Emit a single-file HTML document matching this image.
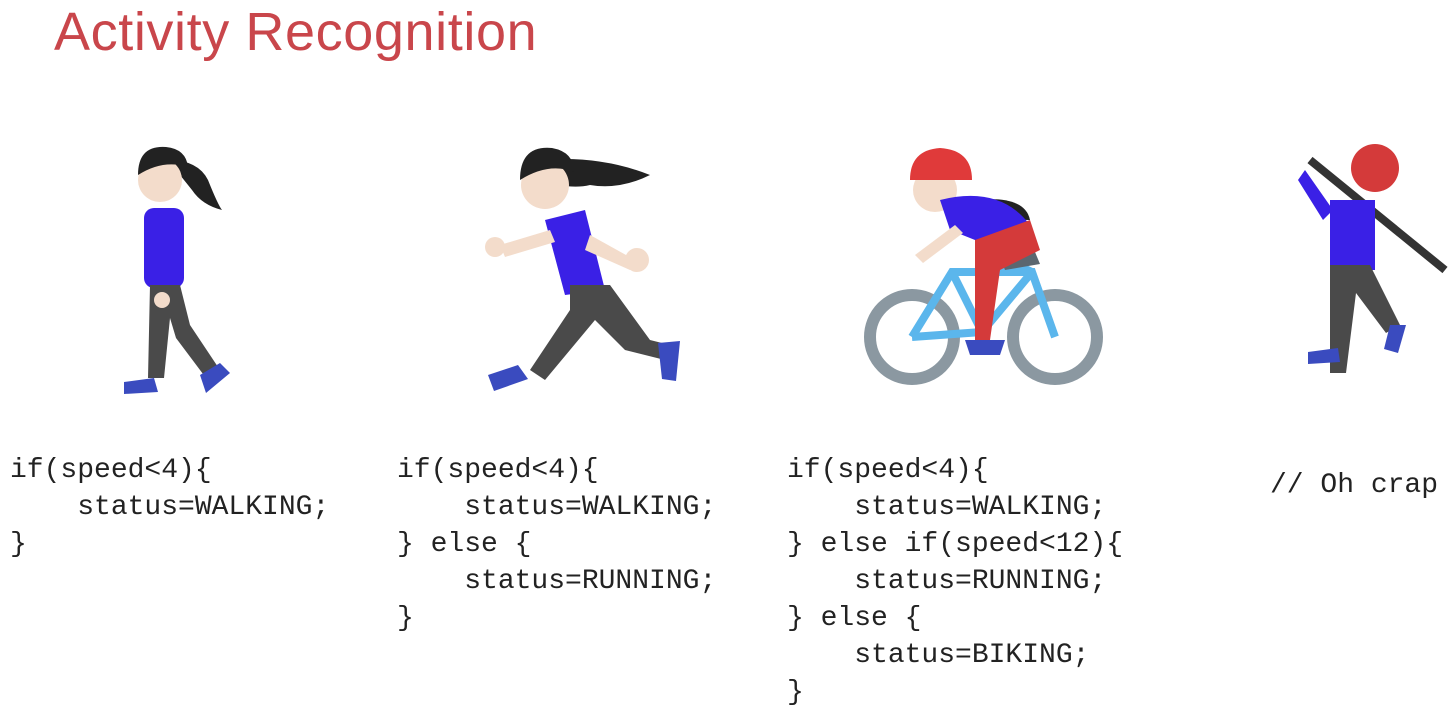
<!DOCTYPE html>
<html><head><meta charset="utf-8"><style>
html,body{margin:0;padding:0;background:#fff;width:1450px;height:714px;overflow:hidden;position:relative}
.t{position:absolute;left:54px;top:1px;font:54px "Liberation Sans",sans-serif;letter-spacing:0.6px;color:#c9464b;white-space:nowrap}
pre{position:absolute;margin:0;font:28px/37px "Liberation Mono",monospace;color:#222}
svg{position:absolute;left:0;top:0}
</style></head><body>
<div class="t">Activity Recognition</div>
<svg width="1450" height="714">
<g>
<path d="M168 160 q30 0 40 20 q10 25 14 30 q-20 -5 -30 -20z" fill="#222"/>
<circle cx="160" cy="180" r="22" fill="#f3dccb"/>
<path d="M138 175 q0 -30 28 -28 q20 2 22 20 q-25 -8 -50 8z" fill="#222"/>
<rect x="144" y="208" width="40" height="80" rx="10" fill="#3a20e6"/>
<path d="M150 285 l30 0 l10 40 l30 45 l-14 8 l-30 -40 l-6 -20 l-6 60 l-16 0z" fill="#4a4a4a"/>
<path d="M124 382 l30 -4 l4 14 l-34 2z" fill="#3a4bbf"/>
<path d="M200 375 l20 -12 l10 10 l-24 20z" fill="#3a4bbf"/>
<circle cx="162" cy="300" r="8" fill="#f3dccb"/>
</g>
<g>
<path d="M540 160 q60 -5 110 15 q-30 15 -60 10 q-20 5 -50 -5z" fill="#222"/>
<circle cx="545" cy="185" r="24" fill="#f3dccb"/>
<path d="M520 180 q0 -35 32 -32 q22 4 22 24 q-25 -10 -54 8z" fill="#222"/>
<path d="M545 220 l40 -10 l20 80 l-40 5z" fill="#3a20e6"/>
<path d="M570 285 l40 0 l40 55 l20 5 l-5 15 l-40 -10 l-30 -30 l-50 60 l-15 -10 l40 -60z" fill="#4a4a4a"/>
<path d="M488 375 l30 -10 l10 14 l-34 12z" fill="#3a4bbf"/>
<path d="M658 343 l22 -2 l-4 40 l-14 -2z" fill="#3a4bbf"/>
<circle cx="495" cy="247" r="10" fill="#f3dccb"/>
<circle cx="637" cy="260" r="12" fill="#f3dccb"/>
<path d="M500 245 l50 -15 l5 12 l-50 15z" fill="#f3dccb"/>
<path d="M590 235 l45 25 l-5 10 l-45 -20z" fill="#f3dccb"/>
</g>
<g fill="none" stroke="#8b98a1" stroke-width="12">
<circle cx="912" cy="337" r="42"/><circle cx="1055" cy="337" r="42"/>
</g>
<g fill="none" stroke="#5bb6ec" stroke-width="8">
<path d="M912 337 l40 -65 l80 0 l23 65 M952 272 l30 60 l50 -60 M912 337 l70 -5 M1010 262 l22 10"/>
</g>
<path d="M1000 258 l35 -6 l5 12 l-35 6z" fill="#5b6770"/>
<path d="M975 200 q50 -5 55 20 q-35 0 -55 -5z" fill="#222"/>
<circle cx="935" cy="190" r="22" fill="#f3dccb"/>
<path d="M910 180 q0 -30 30 -32 q32 2 32 32z" fill="#e03a3a"/>
<path d="M940 200 q60 -15 90 25 l-30 25 l-50 -20z" fill="#3a20e6"/>
<path d="M975 240 l55 -20 l10 30 l-40 20 l-10 70 l-15 0z" fill="#d43a3a"/>
<path d="M965 340 l40 0 l-5 15 l-30 0z" fill="#3a4bbf"/>
<path d="M915 255 l40 -30 l8 8 l-40 30z" fill="#f3dccb"/>
<path d="M1310 160 l135 110" stroke="#333" stroke-width="8"/>
<circle cx="1375" cy="168" r="24" fill="#d43a3a"/>
<path d="M1330 200 l45 0 l0 70 l-45 0z" fill="#3a20e6"/>
<path d="M1305 170 l28 40 l-10 10 l-25 -40z" fill="#3a20e6"/>
<path d="M1330 265 l40 0 l30 60 l-14 8 l-30 -40 l-10 80 l-16 0z" fill="#4a4a4a"/>
<path d="M1308 352 l30 -4 l2 14 l-32 2z" fill="#3a4bbf"/>
<path d="M1390 325 l16 0 l-8 28 l-14 -4z" fill="#3a4bbf"/>
</svg>
<pre style="left:10px;top:452px">if(speed&lt;4){
    status=WALKING;
}</pre>
<pre style="left:397px;top:452px">if(speed&lt;4){
    status=WALKING;
} else {
    status=RUNNING;
}</pre>
<pre style="left:787px;top:452px">if(speed&lt;4){
    status=WALKING;
} else if(speed&lt;12){
    status=RUNNING;
} else {
    status=BIKING;
}</pre>
<pre style="left:1270px;top:467px">// Oh crap</pre>
</body></html>
